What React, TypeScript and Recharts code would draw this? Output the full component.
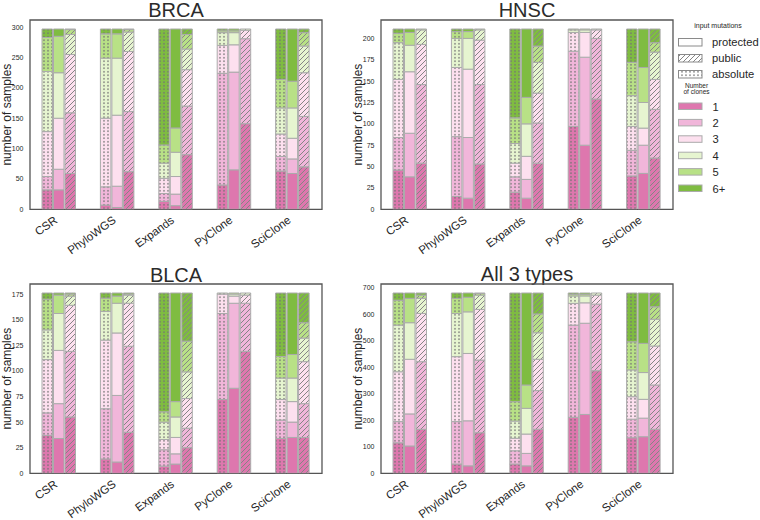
import React from 'react';
import { BarChart, Bar, XAxis, YAxis, ReferenceArea } from 'recharts';

const FONT = '"Liberation Sans", Arial, Helvetica, sans-serif';
const TEXT = '#262626';

const methods = ['CSR', 'PhyloWGS', 'Expands', 'PyClone', 'SciClone'];
const cloneLabels = ['1', '2', '3', '4', '5', '6+'];
const cloneColors = ['#de77ae', '#f1b6da', '#fde0ef', '#e6f5d0', '#b8e186', '#7fbc41'];
const inputKeys = ['abs', 'pro', 'pub'];

// rows: methods; columns: number of clones 1..6+
const brcaAbsolute = [[32, 22, 74, 99, 56, 14], [7, 30, 113, 99, 40, 8], [13, 13, 25, 25, 30, 191], [40, 184, 46, 21, 3, 3], [63, 24, 37, 43, 47, 83]];
const brcaProtected = [[32, 34, 84, 75, 60, 12], [3, 35, 117, 94, 40, 8], [6, 19, 29, 40, 40, 163], [65, 161, 45, 20, 3, 3], [59, 24, 34, 50, 44, 86]];
const brcaPublic = [[59, 100, 96, 33, 8, 1], [62, 99, 99, 32, 4, 1], [90, 80, 60, 34, 24, 9], [141, 140, 14, 2, 0, 0], [70, 83, 72, 44, 22, 6]];

const hnscAbsolute = [[46, 38, 68, 43, 11, 5], [15, 70, 81, 34, 8, 3], [20, 18, 16, 23, 30, 104], [97, 88, 22, 3, 1, 0], [39, 30, 28, 36, 39, 39]];
const hnscProtected = [[38, 51, 72, 31, 15, 4], [13, 71, 80, 36, 8, 3], [13, 22, 27, 38, 31, 80], [75, 103, 29, 3, 1, 0], [42, 33, 20, 30, 41, 45]];
const hnscPublic = [[54, 92, 47, 17, 1, 0], [53, 93, 52, 12, 1, 0], [54, 47, 35, 36, 19, 20], [129, 71, 10, 1, 0, 0], [60, 57, 35, 32, 11, 16]];

const blcaAbsolute = [[37, 22, 52, 29, 30, 6], [14, 49, 67, 28, 13, 5], [7, 16, 10, 17, 10, 116], [72, 84, 19, 1, 0, 0], [34, 18, 20, 21, 21, 62]];
const blcaProtected = [[34, 34, 52, 36, 18, 2], [11, 65, 61, 29, 7, 3], [9, 10, 16, 20, 15, 106], [83, 83, 7, 2, 1, 0], [35, 15, 20, 23, 23, 60]];
const blcaPublic = [[55, 64, 45, 9, 2, 1], [40, 84, 42, 8, 1, 1], [25, 19, 29, 26, 30, 47], [119, 47, 8, 2, 0, 0], [35, 33, 41, 23, 15, 29]];

const allAbsolute = [[115, 80, 188, 176, 94, 27], [35, 160, 245, 163, 57, 20], [35, 50, 47, 65, 73, 410], [211, 348, 82, 28, 6, 5], [134, 70, 85, 101, 106, 184]];
const allProtected = [[103, 121, 206, 138, 92, 20], [28, 170, 254, 157, 55, 16], [28, 47, 73, 97, 88, 347], [222, 344, 77, 26, 6, 5], [138, 70, 71, 101, 110, 190]];
const allPublic = [[166, 255, 182, 57, 12, 8], [153, 274, 191, 54, 6, 2], [166, 146, 118, 100, 71, 79], [387, 251, 34, 8, 0, 0], [166, 167, 147, 101, 47, 52]];

const brcaTicks = [0, 50, 100, 150, 200, 250, 300];
const hnscTicks = [0, 25, 50, 75, 100, 125, 150, 175, 200];
const blcaTicks = [0, 25, 50, 75, 100, 125, 150, 175];
const allTicks = [0, 100, 200, 300, 400, 500, 600, 700];

function buildRows(abs: number[][], pro: number[][], pub: number[][]) {
  return methods.map((m, i) => {
    const row: any = { method: m };
    [abs, pro, pub].forEach((arr, t) => {
      arr[i].forEach((v, k) => {
        row[`${inputKeys[t]}${k}`] = v;
      });
    });
    return row;
  });
}

function rowTotal(row: any) {
  let s = 0;
  for (let k = 0; k < 6; k++) s += row[`pro${k}`];
  return s;
}

const fillFor = (t: number, k: number) =>
  t === 0 ? `url(#dot-${k})` : t === 1 ? cloneColors[k] : `url(#hatch-${k})`;

const XTick = (props: any) => {
  const { x, y, payload } = props;
  const tx = x - 1;
  const ty = y + 12.5;
  return (
    <text x={tx} y={ty} transform={`rotate(-36 ${tx} ${ty})`} textAnchor="end" fontSize={11.5} fontFamily={FONT} fill={TEXT}>
      {payload.value}
    </text>
  );
};

const FW = 292;
const FH = 189.3;

const YLabel = () => {
  const x = 40 - 19;
  const y = 20 + FH / 2;
  return (
    <text x={x} y={y} transform={`rotate(-90 ${x} ${y})`} textAnchor="middle" fontSize={12} fontFamily={FONT} fill={TEXT}>
      number of samples
    </text>
  );
};

function Panel({ title, rows, ticks, fx, fy, titleBase }: any) {
  const total = Math.max(...rows.map(rowTotal));
  const ymax = total * 1.05;
  const W = FW + 45;
  const H = FH + 20 + 60;
  const bars: any[] = [];
  inputKeys.forEach((key, t) => {
    for (let k = 0; k < 6; k++) {
      bars.push(
        <Bar
          key={`${key}${k}`}
          dataKey={`${key}${k}`}
          stackId={key}
          fill={fillFor(t, k)}
          stroke="#ababab"
          strokeWidth={1}
          isAnimationActive={false}
        />
      );
    }
  });
  return (
    <>
      <div
        style={{
          position: 'absolute',
          left: fx,
          width: FW,
          top: titleBase - 17,
          textAlign: 'center',
          fontFamily: FONT,
          fontSize: 20,
          lineHeight: '20px',
          color: '#2b2b2b',
          whiteSpace: 'nowrap',
        }}
      >
        {title}
      </div>
      <div style={{ position: 'absolute', left: fx - 40, top: fy - 20, width: W, height: H }}>
        <BarChart width={W} height={H} data={rows} margin={{ top: 20, right: 5, left: 0, bottom: 0 }} barSize={10.5} barGap={1}>
          <XAxis
            dataKey="method"
            type="category"
            height={60}
            axisLine={false}
            tickLine={false}
            tickSize={0}
            tickMargin={0}
            interval={0}
            tick={XTick}
          />
          <YAxis
            type="number"
            width={40}
            domain={[0, ymax]}
            ticks={ticks}
            allowDataOverflow
            axisLine={false}
            tickLine={false}
            tickSize={0}
            tickMargin={6.5}
            interval={0}
            tick={{ fontSize: 7, fill: TEXT, fontFamily: FONT }}
            label={YLabel}
          />
          {bars}
          <ReferenceArea y1={0} y2={ymax} fill="none" fillOpacity={0} stroke="#555555" strokeWidth={1.3} ifOverflow="visible" />
        </BarChart>
      </div>
    </>
  );
}

const hatchPath = 'M0,5 L5,0 M-1.25,1.25 L1.25,-1.25 M3.75,6.25 L6.25,3.75';

function Defs() {
  return (
    <defs>
      {cloneColors.map((c, k) => (
        <pattern key={`d${k}`} id={`dot-${k}`} width={4} height={3.5} patternUnits="userSpaceOnUse">
          <rect width={4} height={3.5} fill={c} />
          <circle cx={2} cy={1.75} r={0.8} fill="#747474" />
        </pattern>
      ))}
      {cloneColors.map((c, k) => (
        <pattern key={`h${k}`} id={`hatch-${k}`} width={5} height={5} patternUnits="userSpaceOnUse">
          <rect width={5} height={5} fill={c} />
          <path d={hatchPath} stroke="#858585" strokeWidth={1} />
        </pattern>
      ))}
      <pattern id="dot-white" width={4} height={3.5} patternUnits="userSpaceOnUse">
        <rect width={4} height={3.5} fill="#ffffff" />
        <circle cx={2} cy={1.75} r={0.8} fill="#747474" />
      </pattern>
      <pattern id="hatch-white" width={5} height={5} patternUnits="userSpaceOnUse">
        <rect width={5} height={5} fill="#ffffff" />
        <path d={hatchPath} stroke="#858585" strokeWidth={1} />
      </pattern>
    </defs>
  );
}

const inputLegend = [
  { label: 'protected', fill: '#ffffff' },
  { label: 'public', fill: 'url(#hatch-white)' },
  { label: 'absolute', fill: 'url(#dot-white)' },
];

function LegendSvg() {
  return (
    <svg width={760} height={520} style={{ position: 'absolute', left: 0, top: 0, pointerEvents: 'none' }}>
      <Defs />
      <text x={718} y={28.3} textAnchor="middle" fontSize={7} fontFamily={FONT} fill={TEXT}>input mutations</text>
      {inputLegend.map((it, i) => (
        <g key={it.label}>
          <rect x={678.5} y={38.5 + i * 16} width={23.5} height={7.5} fill={it.fill} stroke="#8a8a8a" strokeWidth={1} />
          <text x={712} y={46 + i * 16} fontSize={11.2} fontFamily={FONT} fill={TEXT}>{it.label}</text>
        </g>
      ))}
      <text x={696.5} y={87.5} textAnchor="middle" fontSize={6.5} fontFamily={FONT} fill={TEXT}>Number</text>
      <text x={696.5} y={93.5} textAnchor="middle" fontSize={6.5} fontFamily={FONT} fill={TEXT}>of clones</text>
      {cloneLabels.map((l, k) => (
        <g key={l}>
          <rect x={678.5} y={103 + k * 16.4} width={23.5} height={6.5} fill={cloneColors[k]} stroke="#ababab" strokeWidth={1} />
          <text x={712.5} y={110.5 + k * 16.4} fontSize={11.2} fontFamily={FONT} fill={TEXT}>{l}</text>
        </g>
      ))}
    </svg>
  );
}

export default function App() {
  const brcaRows = buildRows(brcaAbsolute, brcaProtected, brcaPublic);
  const hnscRows = buildRows(hnscAbsolute, hnscProtected, hnscPublic);
  const blcaRows = buildRows(blcaAbsolute, blcaProtected, blcaPublic);
  const allRows = buildRows(allAbsolute, allProtected, allPublic);
  return (
    <div style={{ position: 'absolute', left: 0, top: 0, width: 760, height: 520, background: '#ffffff', overflow: 'hidden' }}>
      <Panel title="BRCA" rows={brcaRows} ticks={brcaTicks} fx={30} fy={20} titleBase={16.7} />
      <Panel title="HNSC" rows={hnscRows} ticks={hnscTicks} fx={381} fy={20} titleBase={16.7} />
      <Panel title="BLCA" rows={blcaRows} ticks={blcaTicks} fx={30} fy={284} titleBase={281.5} />
      <Panel title="All 3 types" rows={allRows} ticks={allTicks} fx={381} fy={284} titleBase={280.5} />
      <LegendSvg />
    </div>
  );
}
